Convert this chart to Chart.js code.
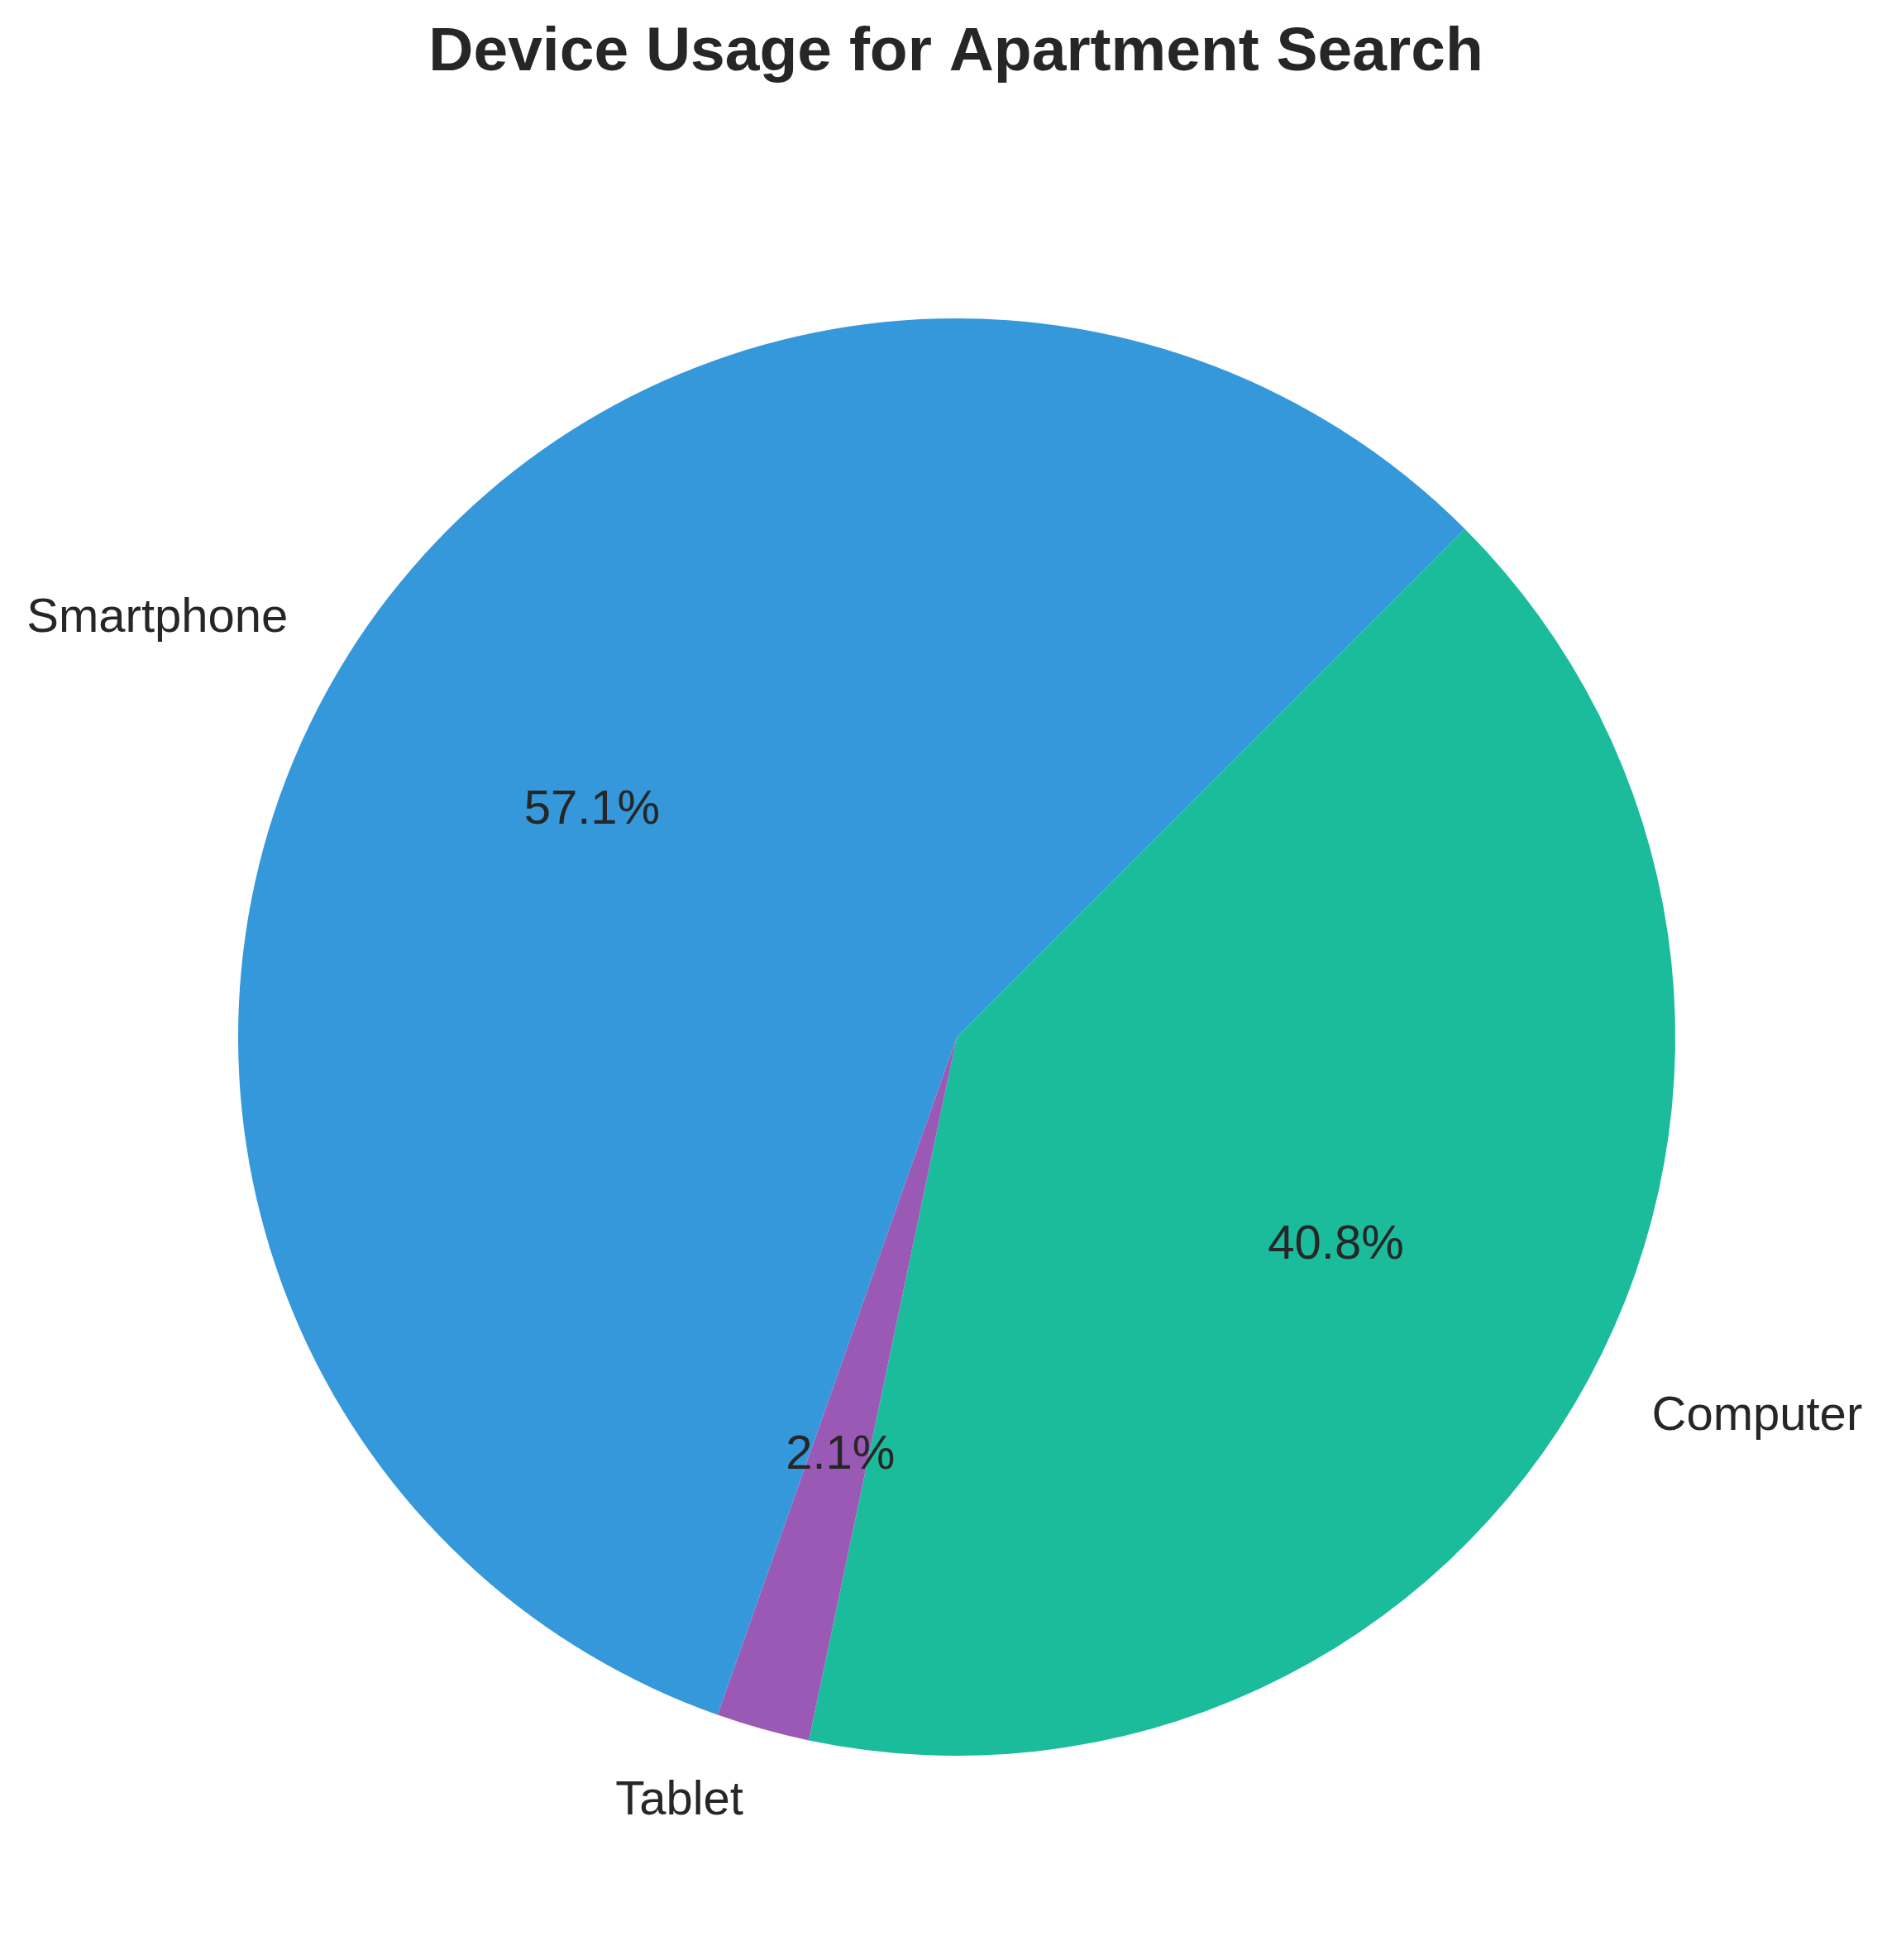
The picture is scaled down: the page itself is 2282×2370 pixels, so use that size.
<!DOCTYPE html>
<html>
<head>
<meta charset="utf-8">
<title>Device Usage for Apartment Search</title>
<script src="https://cdn.jsdelivr.net/npm/chart.js@4.4.1/dist/chart.umd.min.js"></script>
<style>
  body { margin: 0; background: #fff; }
  canvas { display: block; }
</style>
</head>
<body>
<canvas id="pie" width="2282" height="2370"></canvas>
<script>
// data (percent of respondents)
const devices = ["Smartphone", "Tablet", "Computer"];
const usage = [57.1, 2.1, 40.8];
const colors = ["#3498db", "#9b59b6", "#1abc9c"];

const titleText = "Device Usage for Apartment Search";
const textColor = "#262626";
const fontFamily = '"Liberation Sans", Arial, Helvetica, sans-serif';

// matplotlib goes counter-clockwise, Chart.js goes clockwise -> reverse the order
const labelsCw = devices.slice().reverse();
const usageCw = usage.slice().reverse();
const colorsCw = colors.slice().reverse();

// draws the title, the outside labels and the percentages
const pieText = {
  id: "pieText",
  afterDraw(chart) {
    const ctx = chart.ctx;
    const meta = chart.getDatasetMeta(0);
    const total = usageCw.reduce((a, b) => a + b, 0);

    ctx.save();
    ctx.fillStyle = textColor;

    // title
    ctx.font = "bold 75px " + fontFamily;
    ctx.textAlign = "center";
    ctx.textBaseline = "alphabetic";
    ctx.fillText(titleText, 1156, 85);

    ctx.font = "58px " + fontFamily;
    ctx.textBaseline = "middle";
    meta.data.forEach((arc, i) => {
      const mid = (arc.startAngle + arc.endAngle) / 2;
      const r = arc.outerRadius;
      const cx = Math.cos(mid);
      const cy = Math.sin(mid);

      // category label outside the pie
      ctx.textAlign = cx > 0 ? "left" : "right";
      ctx.fillText(labelsCw[i], arc.x + cx * r * 1.1, arc.y + cy * r * 1.1 + 4);

      // percentage inside
      ctx.textAlign = "center";
      const pct = (usageCw[i] / total * 100).toFixed(1) + "%";
      ctx.fillText(pct, arc.x + cx * r * 0.6, arc.y + cy * r * 0.6 + 4);
    });
    ctx.restore();
  }
};

const ctx = document.getElementById("pie").getContext("2d");
new Chart(ctx, {
  type: "pie",
  data: {
    labels: labelsCw,
    datasets: [
      {
        data: usageCw,
        backgroundColor: colorsCw,
        borderWidth: 0,
      },
    ],
  },
  options: {
    responsive: false,
    animation: false,
    rotation: 45,
    layout: { padding: { left: 288, right: 256, top: 385, bottom: 247 } },
    plugins: {
      legend: { display: false },
      title: { display: false },
      tooltip: { enabled: false },
    },
  },
  plugins: [pieText],
});
</script>
</body>
</html>
